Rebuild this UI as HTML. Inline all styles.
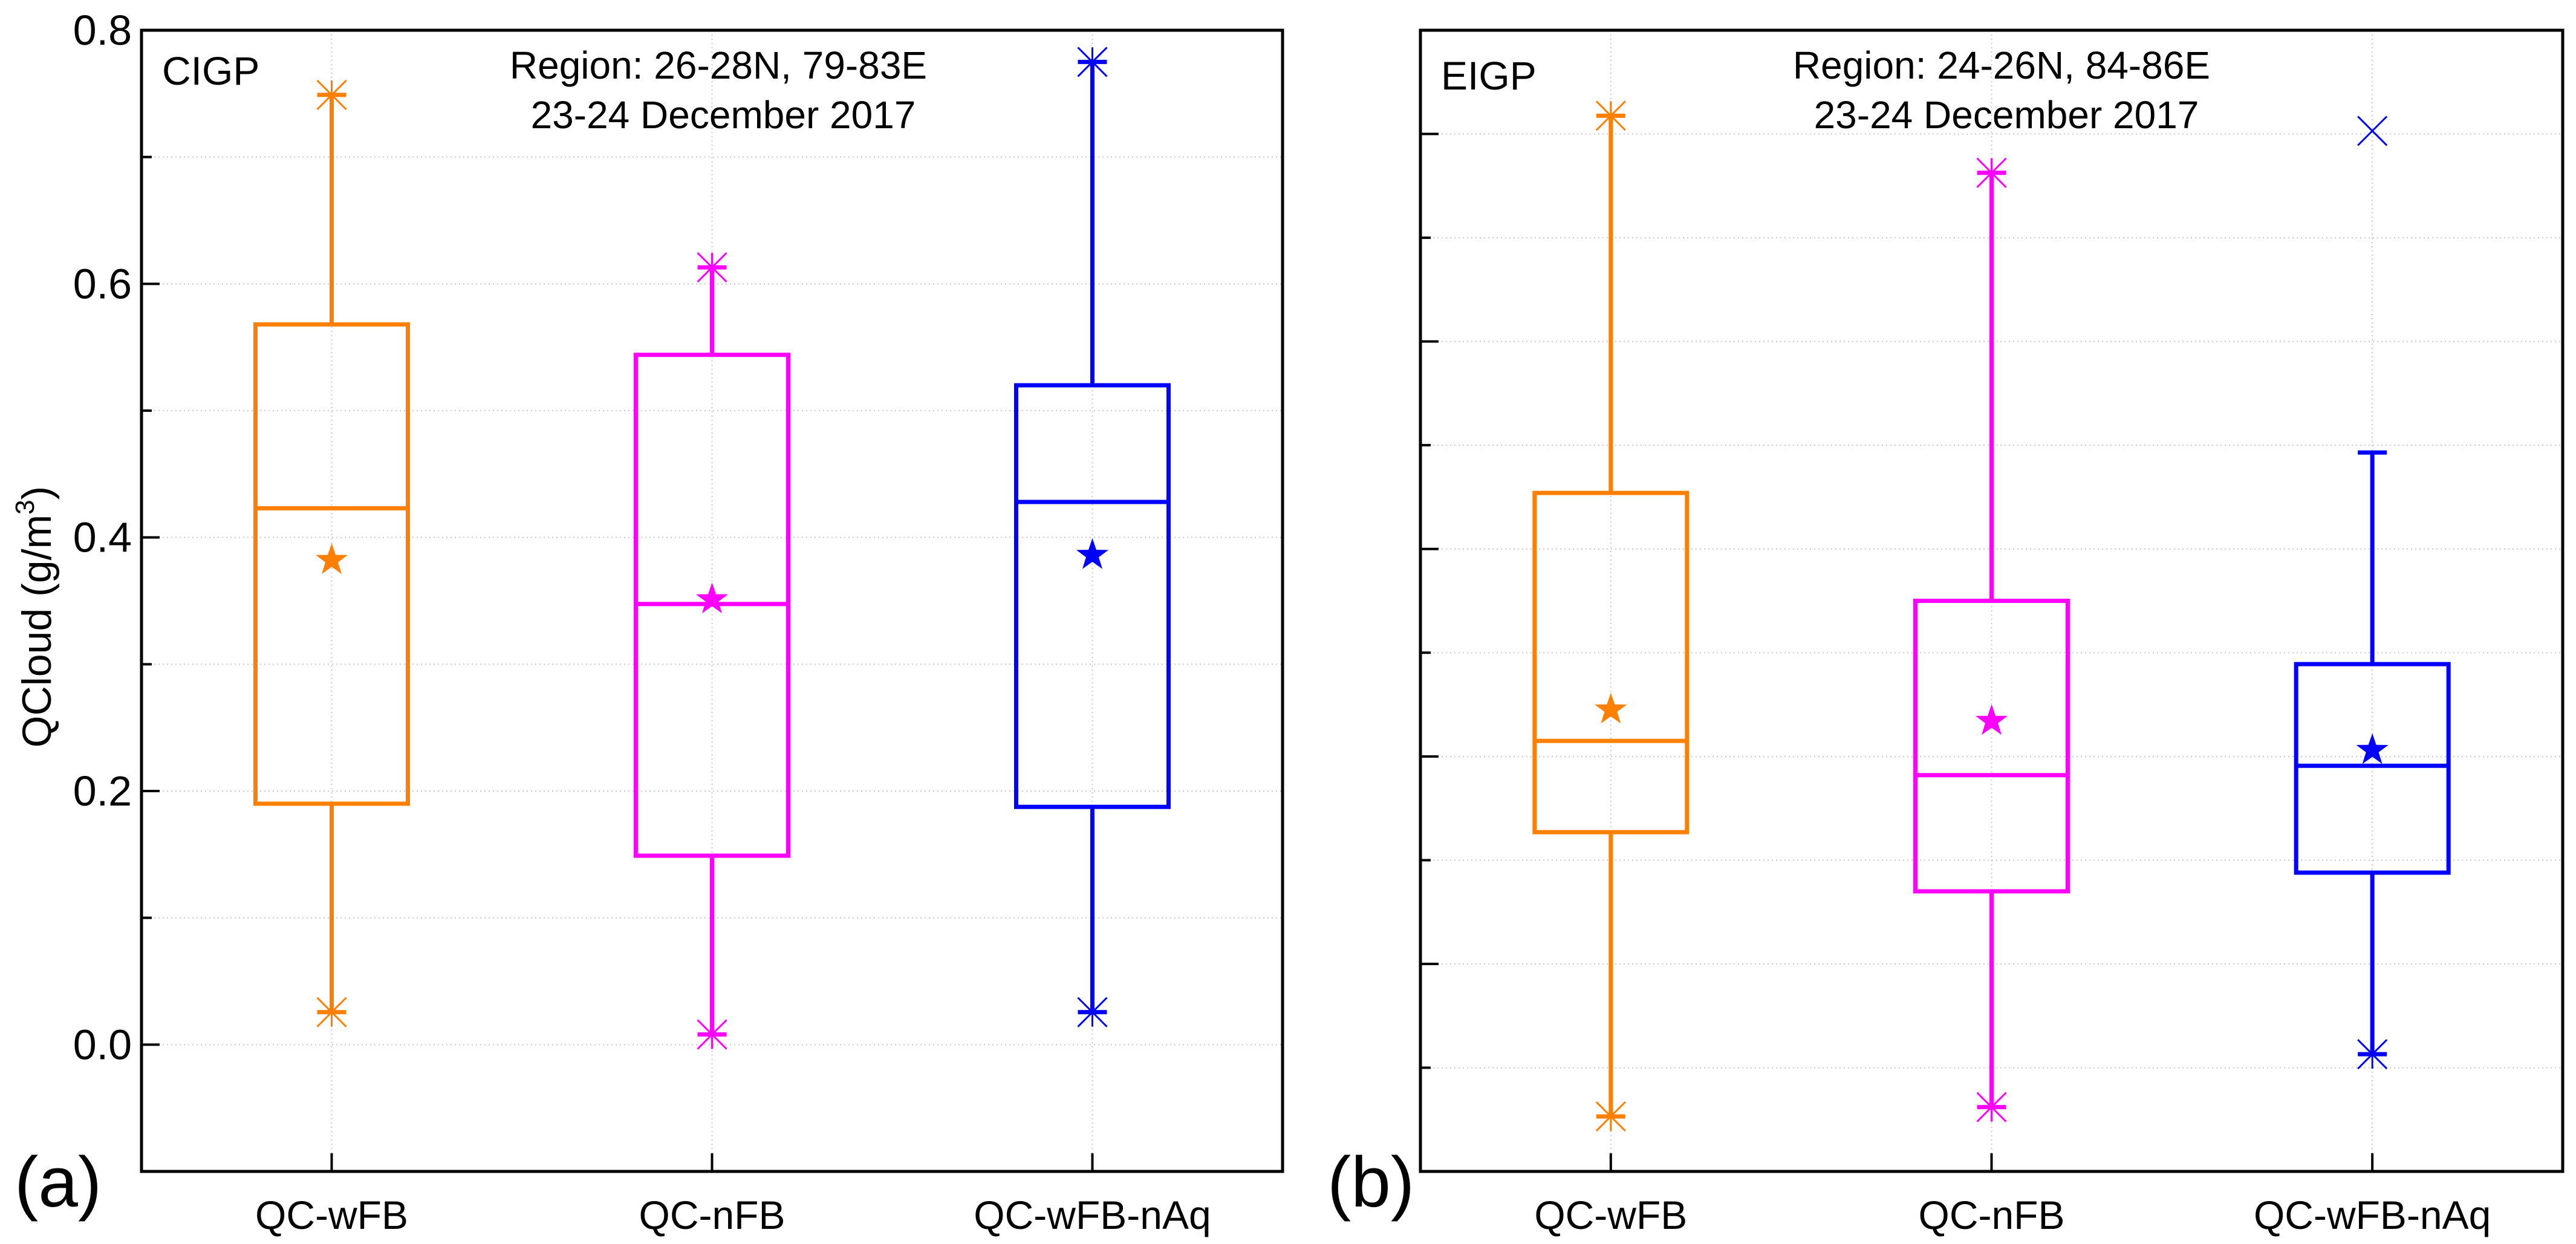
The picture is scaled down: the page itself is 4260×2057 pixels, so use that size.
<!DOCTYPE html>
<html><head><meta charset="utf-8"><style>
html,body{margin:0;padding:0;background:#fff}
svg{display:block}
text{font-family:"Liberation Sans","DejaVu Sans",sans-serif;fill:#000}
</style></head><body>
<svg id="chart" width="4260" height="2057" viewBox="0 0 4260 2057" xmlns="http://www.w3.org/2000/svg"></svg>
<script>
const categories = ["QC-wFB","QC-nFB","QC-wFB-nAq"];
const colors = ["#ff8000","#ff00ff","#0000ff"];
// panel a
const aMax = [0.749,0.613,0.775];
const aQ3 = [0.568,0.544,0.520];
const aMed = [0.423,0.3475,0.428];
const aMean = [0.382,0.351,0.386];
const aQ1 = [0.190,0.149,0.1875];
const aMin = [0.0256,0.008,0.0256];
const aOutlier = [null,null,null];
const aMaxMarker = [true,true,true];
const aTicks = [0.0,0.2,0.4,0.6,0.8];
const aTickLabels = ["0.0","0.2","0.4","0.6","0.8"];
// panel b
const bMax = [0.9176,0.8626,0.593];
const bQ3 = [0.554,0.450,0.389];
const bMed = [0.315,0.282,0.291];
const bMean = [0.345,0.334,0.306];
const bQ1 = [0.227,0.170,0.188];
const bMin = [-0.047,-0.038,0.013];
const bOutlier = [null,null,0.903];
const bMaxMarker = [true,true,false];

const NS="http://www.w3.org/2000/svg";
const svg=document.getElementById('chart');
function mk(tag,attrs,parent){const e=document.createElementNS(NS,tag);for(const k in attrs)e.setAttribute(k,attrs[k]);(parent||svg).appendChild(e);return e;}

function panel(p){
  const g=mk('g',{});
  
  
  const L=p.left,R=p.right,T=50,B=1937;
  const y=v=>B-(v-p.ymin)/(p.ymax-p.ymin)*(B-T);
  const x=i=>L+(R-L)*(i+0.5)/3;
  for(let v=p.ymin+p.minor;v<p.ymax-1e-9;v+=p.minor){
    const gl=mk('line',{x1:L,x2:R,y1:y(v),y2:y(v),stroke:'#c8c8c8','stroke-width':2,'stroke-dasharray':'2,5'},g);
    
    const major=Math.abs(Math.round((v-p.majorBase)/p.major)*p.major-(v-p.majorBase))<1e-6;
    const t=mk('line',{x1:L,x2:L+(major?30:17),y1:y(v),y2:y(v),stroke:'#000','stroke-width':4},g);
    
  }
  categories.forEach((c,i)=>{
    const gl=mk('line',{x1:x(i),x2:x(i),y1:T,y2:B,stroke:'#c8c8c8','stroke-width':2,'stroke-dasharray':'2,5'},g);
    
  });
  const hw=126,cap=24,ms=24;
  categories.forEach((c,i)=>{
    const col=colors[i],bg=mk('g',{},g);
    
    mk('line',{x1:x(i),x2:x(i),y1:y(p.max[i]),y2:y(p.q3[i]),stroke:col,'stroke-width':7},bg);
    mk('line',{x1:x(i),x2:x(i),y1:y(p.q1[i]),y2:y(p.min[i]),stroke:col,'stroke-width':7},bg);
    mk('line',{x1:x(i)-cap,x2:x(i)+cap,y1:y(p.max[i]),y2:y(p.max[i]),stroke:col,'stroke-width':7},bg);
    mk('line',{x1:x(i)-cap,x2:x(i)+cap,y1:y(p.min[i]),y2:y(p.min[i]),stroke:col,'stroke-width':7},bg);
    mk('rect',{x:x(i)-hw,y:y(p.q3[i]),width:2*hw,height:y(p.q1[i])-y(p.q3[i]),fill:'none',stroke:col,'stroke-width':7},bg);
    mk('line',{x1:x(i)-hw,x2:x(i)+hw,y1:y(p.med[i]),y2:y(p.med[i]),stroke:col,'stroke-width':7},bg);
    const ast=v=>{const cy=y(v),cx=x(i);
      mk('path',{d:`M${cx-ms},${cy-ms}L${cx+ms},${cy+ms}M${cx-ms},${cy+ms}L${cx+ms},${cy-ms}M${cx},${cy-ms}L${cx},${cy+ms}`,stroke:col,'stroke-width':3,fill:'none'},bg);};
    if(p.maxMarker[i])ast(p.max[i]);
    ast(p.min[i]);
    if(p.out[i]!==null){const cy=y(p.out[i]),cx=x(i);
      mk('path',{d:`M${cx-ms},${cy-ms}L${cx+ms},${cy+ms}M${cx-ms},${cy+ms}L${cx+ms},${cy-ms}`,stroke:col,'stroke-width':3,fill:'none'},bg);}
    const cx=x(i),cy=y(p.mean[i]);let d='';
    for(let k=0;k<10;k++){const r=k%2?11:28,a=-Math.PI/2+k*Math.PI/5;d+=(k?'L':'M')+(cx+r*Math.cos(a)).toFixed(1)+','+(cy+r*Math.sin(a)).toFixed(1);}
    const st=mk('path',{d:d+'Z',fill:col},bg);
    
    mk('line',{x1:x(i),x2:x(i),y1:B,y2:B-30,stroke:'#000','stroke-width':4},g);
    const tl=mk('text',{x:x(i),y:2032,'text-anchor':'middle','font-size':66},g);tl.textContent=c;
    
  });
  const fr=mk('rect',{x:L,y:T,width:R-L,height:B-T,fill:'none',stroke:'#000','stroke-width':5},g);
  
  const t1=mk('text',{x:L+34,y:p.regionY,'font-size':66},g);t1.textContent=p.region;
  
  const t2=mk('text',{x:p.titleX,y:130,'text-anchor':'middle','font-size':64},g);t2.textContent=p.t1;
  
  const t3=mk('text',{x:p.titleX+8,y:212,'text-anchor':'middle','font-size':64},g);t3.textContent='23-24 December 2017';
  
  const pl=mk('text',{x:p.labelX,y:1995,'font-size':118},g);pl.textContent=p.label;
  
  return y;
}
const ya=panel({name:'panel-a',left:234,right:2121,ymin:-0.1,ymax:0.8,minor:0.1,major:0.2,majorBase:0,
  max:aMax,q3:aQ3,med:aMed,mean:aMean,q1:aQ1,min:aMin,out:aOutlier,maxMarker:aMaxMarker,region:'CIGP',regionY:140,t1:'Region: 26-28N, 79-83E',titleX:1188,label:'(a)',labelX:24});
aTicks.forEach((v,k)=>{const t=mk('text',{x:218,y:ya(v)+24,'text-anchor':'end','font-size':70});t.textContent=aTickLabels[k];
  });
const yt=mk('text',{transform:'translate(84,1020) rotate(-90)','text-anchor':'middle','font-size':68});
yt.innerHTML='QCloud (g/m<tspan font-size="44" dy="-28">3</tspan><tspan dy="28">)</tspan>';

panel({name:'panel-b',left:2349,right:4238,ymin:-0.1,ymax:1.0,minor:0.1,major:0.2,majorBase:0.1,
  max:bMax,q3:bQ3,med:bMed,mean:bMean,q1:bQ1,min:bMin,out:bOutlier,maxMarker:bMaxMarker,region:'EIGP',regionY:148,t1:'Region: 24-26N, 84-86E',titleX:3310,label:'(b)',labelX:2195});
</script>
</body></html>
